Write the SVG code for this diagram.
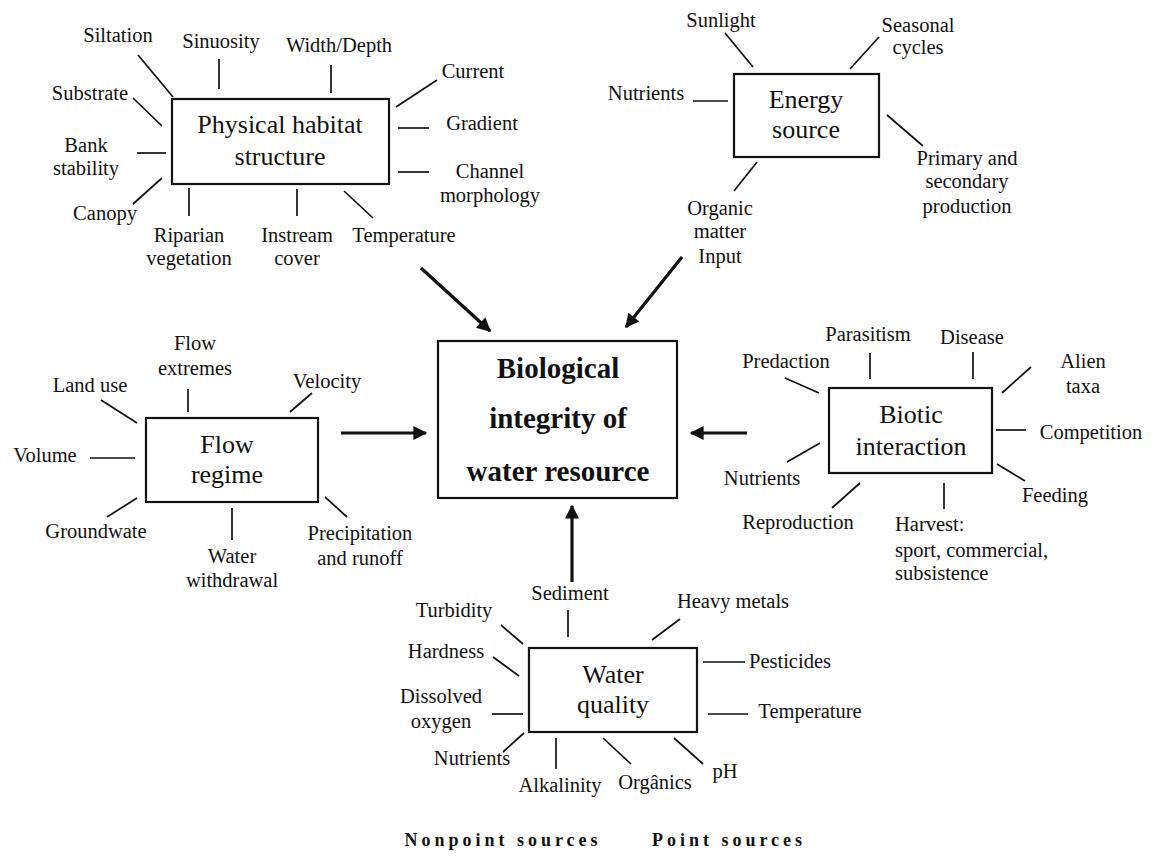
<svg xmlns="http://www.w3.org/2000/svg" width="1152" height="857" viewBox="0 0 1152 857">
<defs>
<style>
text{font-family:"Liberation Serif","Times New Roman",serif;fill:#111}
.lb{font-size:20.5px;text-anchor:middle}
.lbl{font-size:20.5px;text-anchor:start}
.bx{font-size:26px;text-anchor:middle}
.ct{font-size:29px;font-weight:bold;text-anchor:middle}
.ft{font-size:18px;font-weight:bold;letter-spacing:4px;text-anchor:middle}
rect{fill:#fff;stroke:#111;stroke-width:2.2}
.sp line{stroke:#111;stroke-width:1.7}
.ar{stroke:#111;stroke-width:3.2;fill:none}
</style>
<marker id="ah" viewBox="0 0 10 10" refX="9" refY="5" markerUnits="userSpaceOnUse" markerWidth="18" markerHeight="14" orient="auto">
<path d="M0,0 L10,5 L0,10 Z" fill="#111"/>
</marker>
</defs>
<rect x="0" y="0" width="1152" height="857" style="fill:#fff;stroke:none"/>

<g id="physical-habitat">
<rect x="172" y="99" width="217" height="85"/>
<text class="bx" x="280" y="133">Physical habitat</text>
<text class="bx" x="280" y="165">structure</text>
<g class="sp">
<line x1="138" y1="55" x2="173" y2="97"/>
<line x1="219" y1="59" x2="219" y2="89"/>
<line x1="331" y1="65" x2="331" y2="93"/>
<line x1="396" y1="107" x2="437" y2="80"/>
<line x1="398" y1="128" x2="429" y2="128"/>
<line x1="398" y1="172" x2="429" y2="172"/>
<line x1="344" y1="191" x2="373" y2="218"/>
<line x1="297" y1="189" x2="297" y2="216"/>
<line x1="189" y1="188" x2="189" y2="216"/>
<line x1="133" y1="204" x2="162" y2="178"/>
<line x1="137" y1="153" x2="166" y2="153"/>
<line x1="133" y1="98" x2="162" y2="126"/>
</g>
<text class="lb" x="118" y="42">Siltation</text>
<text class="lb" x="221" y="48">Sinuosity</text>
<text class="lb" x="339" y="52">Width/Depth</text>
<text class="lb" x="473" y="78">Current</text>
<text class="lb" x="482" y="130">Gradient</text>
<text class="lb" x="490" y="178">Channel</text>
<text class="lb" x="490" y="202">morphology</text>
<text class="lb" x="404" y="242">Temperature</text>
<text class="lb" x="297" y="242">Instream</text>
<text class="lb" x="297" y="265">cover</text>
<text class="lb" x="189" y="242">Riparian</text>
<text class="lb" x="189" y="265">vegetation</text>
<text class="lb" x="105" y="220">Canopy</text>
<text class="lb" x="86" y="152">Bank</text>
<text class="lb" x="86" y="175">stability</text>
<text class="lb" x="90" y="100">Substrate</text>
</g>

<g id="energy-source">
<rect x="734" y="74" width="145" height="83"/>
<text class="bx" x="806" y="108">Energy</text>
<text class="bx" x="806" y="138">source</text>
<g class="sp">
<line x1="725" y1="33" x2="753" y2="67"/>
<line x1="850" y1="69" x2="879" y2="37"/>
<line x1="693" y1="101" x2="728" y2="101"/>
<line x1="887" y1="115" x2="923" y2="146"/>
<line x1="757" y1="162" x2="734" y2="191"/>
</g>
<text class="lb" x="721" y="27">Sunlight</text>
<text class="lb" x="918" y="32">Seasonal</text>
<text class="lb" x="918" y="54">cycles</text>
<text class="lb" x="646" y="100">Nutrients</text>
<text class="lb" x="967" y="165">Primary and</text>
<text class="lb" x="967" y="188">secondary</text>
<text class="lb" x="967" y="213">production</text>
<text class="lb" x="720" y="215">Organic</text>
<text class="lb" x="720" y="238">matter</text>
<text class="lb" x="720" y="263">Input</text>
</g>

<g id="flow-regime">
<rect x="146" y="418" width="172" height="84"/>
<text class="bx" x="227" y="453">Flow</text>
<text class="bx" x="227" y="483">regime</text>
<g class="sp">
<line x1="101" y1="400" x2="137" y2="423"/>
<line x1="188" y1="389" x2="188" y2="412"/>
<line x1="290" y1="412" x2="312" y2="393"/>
<line x1="90" y1="458" x2="135" y2="458"/>
<line x1="107" y1="517" x2="137" y2="498"/>
<line x1="232" y1="508" x2="232" y2="540"/>
<line x1="325" y1="497" x2="347" y2="517"/>
</g>
<text class="lb" x="90" y="392">Land use</text>
<text class="lb" x="195" y="350">Flow</text>
<text class="lb" x="195" y="375">extremes</text>
<text class="lb" x="327" y="388">Velocity</text>
<text class="lb" x="45" y="462">Volume</text>
<text class="lb" x="96" y="538">Groundwate</text>
<text class="lb" x="232" y="563">Water</text>
<text class="lb" x="232" y="587">withdrawal</text>
<text class="lb" x="360" y="540">Precipitation</text>
<text class="lb" x="360" y="565">and runoff</text>
</g>

<g id="biological-integrity">
<rect x="438" y="341" width="239" height="157"/>
<text class="ct" x="558" y="378">Biological</text>
<text class="ct" x="558" y="428">integrity of</text>
<text class="ct" x="558" y="481">water resource</text>
</g>

<g id="biotic-interaction">
<rect x="829" y="388" width="163" height="85"/>
<text class="bx" x="911" y="423">Biotic</text>
<text class="bx" x="911" y="455">interaction</text>
<g class="sp">
<line x1="785" y1="378" x2="819" y2="393"/>
<line x1="870" y1="353" x2="870" y2="379"/>
<line x1="973" y1="352" x2="973" y2="379"/>
<line x1="1002" y1="393" x2="1031" y2="367"/>
<line x1="996" y1="430" x2="1026" y2="430"/>
<line x1="997" y1="464" x2="1025" y2="481"/>
<line x1="944" y1="483" x2="944" y2="509"/>
<line x1="860" y1="483" x2="832" y2="508"/>
<line x1="820" y1="443" x2="787" y2="462"/>
</g>
<text class="lb" x="786" y="368">Predaction</text>
<text class="lb" x="868" y="341">Parasitism</text>
<text class="lb" x="972" y="344">Disease</text>
<text class="lb" x="1083" y="368">Alien</text>
<text class="lb" x="1083" y="393">taxa</text>
<text class="lb" x="1091" y="439">Competition</text>
<text class="lb" x="1055" y="502">Feeding</text>
<text class="lbl" x="895" y="531">Harvest:</text>
<text class="lbl" x="895" y="557">sport, commercial,</text>
<text class="lbl" x="895" y="580">subsistence</text>
<text class="lb" x="798" y="529">Reproduction</text>
<text class="lb" x="762" y="485">Nutrients</text>
</g>

<g id="water-quality">
<rect x="529" y="648" width="168" height="84"/>
<text class="bx" x="613" y="683">Water</text>
<text class="bx" x="613" y="713">quality</text>
<g class="sp">
<line x1="568" y1="610" x2="568" y2="637"/>
<line x1="501" y1="625" x2="523" y2="644"/>
<line x1="652" y1="640" x2="680" y2="619"/>
<line x1="493" y1="657" x2="519" y2="676"/>
<line x1="703" y1="662" x2="745" y2="662"/>
<line x1="492" y1="714" x2="523" y2="714"/>
<line x1="708" y1="714" x2="748" y2="714"/>
<line x1="503" y1="752" x2="524" y2="733"/>
<line x1="556" y1="738" x2="556" y2="769"/>
<line x1="603" y1="738" x2="631" y2="764"/>
<line x1="674" y1="738" x2="703" y2="764"/>
</g>
<text class="lb" x="570" y="600">Sediment</text>
<text class="lb" x="454" y="617">Turbidity</text>
<text class="lb" x="733" y="608">Heavy metals</text>
<text class="lb" x="446" y="658">Hardness</text>
<text class="lb" x="790" y="668">Pesticides</text>
<text class="lb" x="441" y="703">Dissolved</text>
<text class="lb" x="441" y="728">oxygen</text>
<text class="lb" x="810" y="718">Temperature</text>
<text class="lb" x="472" y="765">Nutrients</text>
<text class="lb" x="560" y="792">Alkalinity</text>
<text class="lb" x="655" y="789">Orgânics</text>
<text class="lb" x="725" y="778">pH</text>
</g>

<g id="connectors">
<line class="ar" x1="421" y1="268" x2="490" y2="331" marker-end="url(#ah)"/>
<line class="ar" x1="682" y1="257" x2="626" y2="327" marker-end="url(#ah)"/>
<line class="ar" x1="341" y1="433" x2="426" y2="433" marker-end="url(#ah)"/>
<line class="ar" x1="747" y1="433" x2="691" y2="433" marker-end="url(#ah)"/>
<line class="ar" x1="572" y1="582" x2="572" y2="506" marker-end="url(#ah)"/>
</g>

<g id="footer">
<text class="ft" x="503" y="846">Nonpoint sources</text>
<text class="ft" x="729" y="846">Point sources</text>
</g>
</svg>
